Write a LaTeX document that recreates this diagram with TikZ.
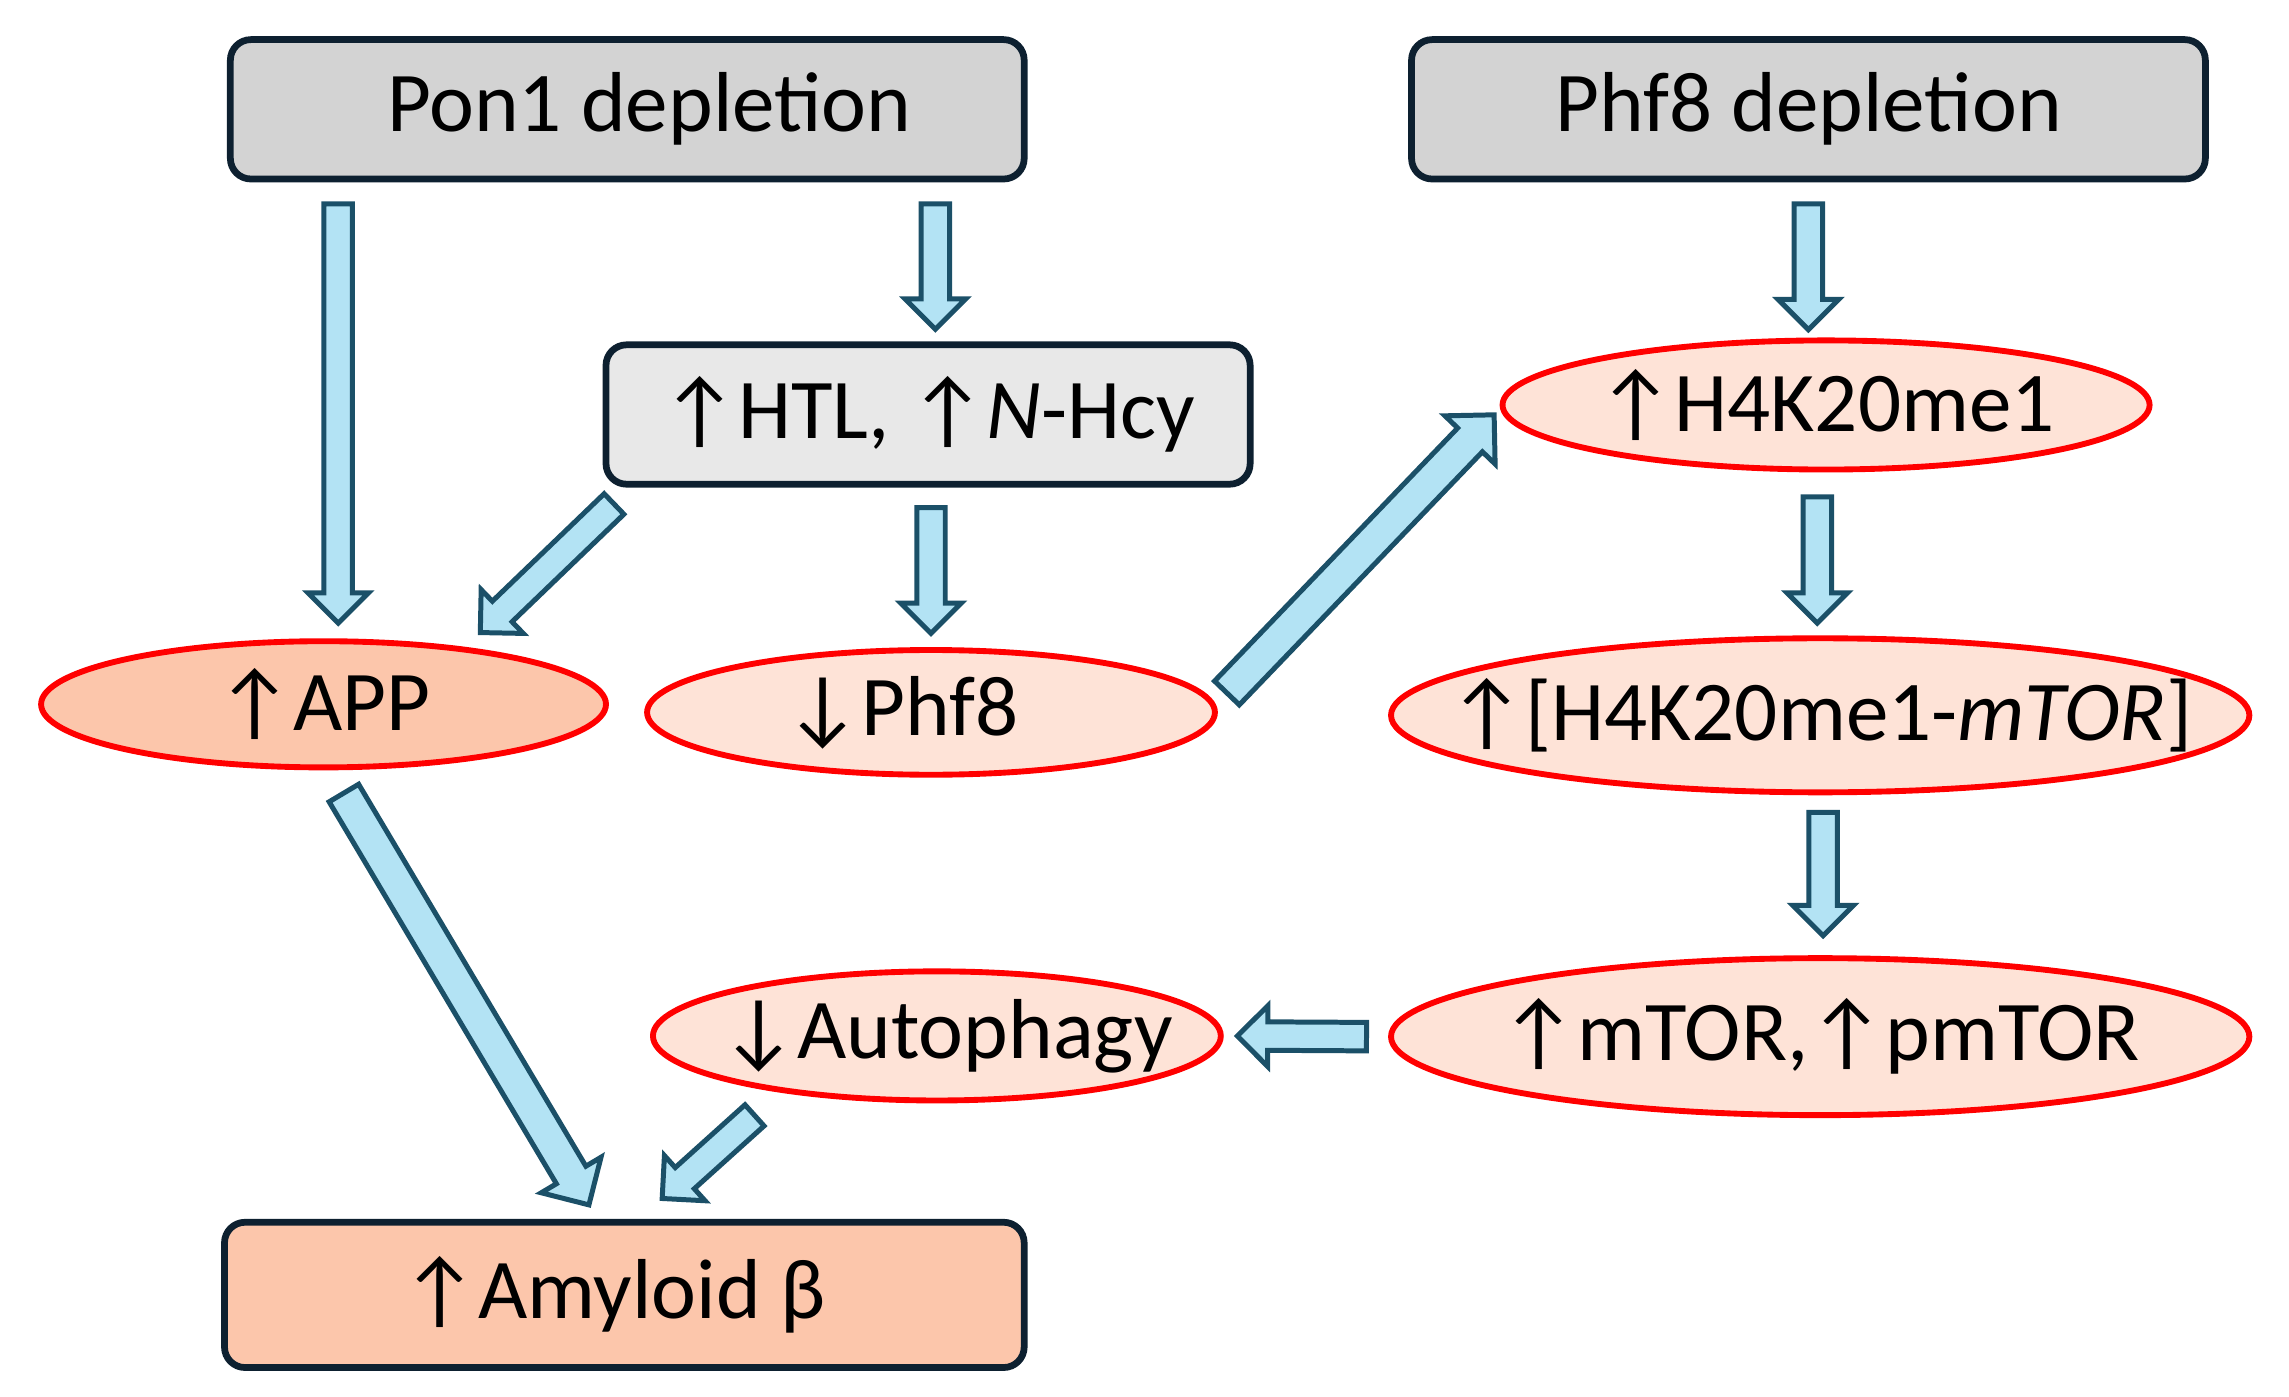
\documentclass[tikz,border=0pt]{standalone}
\usepackage{fontspec}
\setmainfont{Carlito}
\usepackage{tikz}
\usetikzlibrary{calc,shapes.geometric,shapes.arrows}

\definecolor{boxgrey}{HTML}{D3D3D3}
\definecolor{boxlight}{HTML}{E8E8E8}
\definecolor{boxline}{HTML}{0D2030}
\definecolor{salmon}{HTML}{FCC6AB}
\definecolor{blush}{HTML}{FEE3D7}
\definecolor{arrowfill}{HTML}{B3E3F4}
\definecolor{arrowline}{HTML}{1B5068}

\newcommand\upArr{↑}
\newcommand\dnArr{↓}
\newcommand\ovaltext[1]{\makebox[0pt]{#1}}

\tikzset{
  every node/.style={font=\fontsize{29}{34}\selectfont},
  greybox/.style={draw=boxline, line width=2.3pt, rounded corners=7pt, fill=boxgrey, inner sep=0pt},
  oval/.style={ellipse, draw=red, line width=2pt, fill=blush, inner sep=0pt},
  fat arrow/.style={single arrow, draw=arrowline, fill=arrowfill, line width=1.7pt,
    inner sep=0pt, inner ysep=4pt, minimum width=0pt, single arrow head extend=5.5pt}
}

% block arrow from (#2)+(#3) to (#4)+(#5)
\newcommand\fatarrow[5][]{%
  \path let \p1=($(#2)+(#3)$), \p2=($(#4)+(#5)$), \p3=($(\p2)-(\p1)$),
    \n1={atan2(\y3,\x3)}, \n2={veclen(\x3,\y3)} in
    node[fat arrow,#1,rotate=\n1,minimum height=\n2,anchor=tail] at (\p1) {};}

\begin{document}
\begin{tikzpicture}[x=0.5pt,y=-0.5pt]
        \useasboundingbox (0,0) rectangle (1560,952);

        % Boxes
        \node[greybox, minimum width=270.5pt, minimum height=47.5pt] (pon) at (427.5,74.5) {\hspace*{15pt}Pon1 depletion};
        \node[greybox, minimum width=270.5pt, minimum height=47.5pt] (phf) at (1232.5,74.5) {Phf8 depletion};
        \node[greybox, fill=boxlight, minimum width=219.5pt, minimum height=47.5pt] (htl) at (632.5,282.5) {\upArr HTL, \upArr\textit{N}-Hcy};
        \node[greybox, fill=salmon, minimum width=272.5pt, minimum height=49.5pt] (amy) at (425.5,882.5) {\upArr Amyloid β\hspace*{7.5pt}};

        % Ellipses
        \node[oval, fill=salmon, minimum width=192.5pt, minimum height=43pt] (app) at (220.5,480) {\ovaltext{\upArr APP}};
        \node[oval, minimum width=193.5pt, minimum height=42.5pt] (p8) at (634.5,485.5) {\ovaltext{\dnArr Phf8\hspace{20pt}}};
        \node[oval, minimum width=220.5pt, minimum height=44pt] (h4k) at (1244.5,276) {\ovaltext{\upArr H4K20me1}};
        \node[oval, minimum width=292.5pt, minimum height=52.5pt] (cx) at (1240.5,487.5) {\ovaltext{\upArr[H4K20me1-\textit{mTOR}]}};
        \node[oval, minimum width=292.5pt, minimum height=53.5pt] (mt) at (1240.5,706.5) {\ovaltext{\upArr mTOR,\upArr pmTOR}};
        \node[oval, minimum width=193.5pt, minimum height=44pt] (au) at (638.5,706) {\ovaltext{\hspace{6.5pt}\dnArr Autophagy}};

        % Block Arrows
        \fatarrow{pon.south -| app.north}{10,13}{app.north}{10,-12}
        \fatarrow{pon.south -| htl.north}{5,13}{htl.north}{5,-10}
        \fatarrow{phf.south}{0,13}{phf.south |- h4k.north}{0,-7}
        \fatarrow{htl.south -| p8.north}{0,12}{p8.north}{0,-11}
        \fatarrow{htl.south west}{9,10}{app.north}{108,-5}
        \fatarrow[inner ysep=5pt, single arrow head extend=6pt]{p8.east}{5,-12}{h4k.west}{-4,7}
        \fatarrow{h4k.south}{-6,15}{cx.north}{-2,-10}
        \fatarrow{cx.south}{2,10}{mt.north}{2,-15}
        \fatarrow{mt.west}{-13,0}{au.east}{11,0}
        \fatarrow[inner ysep=5pt, single arrow head extend=6pt]{app.south}{13,14}{amy.north}{-25,-11}
        \fatarrow{au.south}{-123,7}{amy.north}{27,-15}

\end{tikzpicture}
\end{document}
